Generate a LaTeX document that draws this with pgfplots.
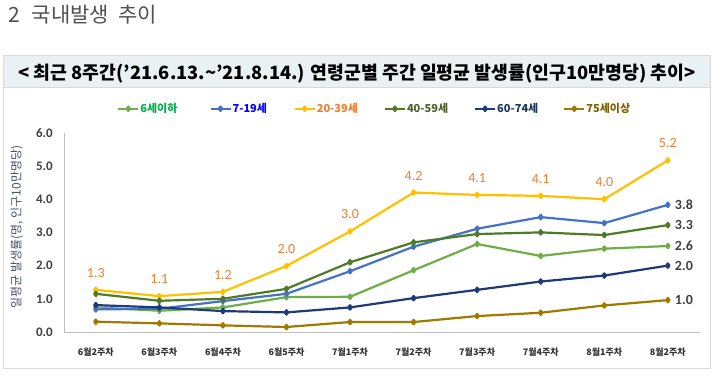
\documentclass[border=0pt]{standalone}
\usepackage{pgfplots}
\pgfplotsset{compat=1.18}
\usepackage{fontspec}
\usepackage{graphicx}
\setmainfont{Noto Sans CJK KR}
\newfontfamily\calfont{Carlito}

\definecolor{cA}{HTML}{70AD47}
\definecolor{cB}{HTML}{4472C4}
\definecolor{cC}{HTML}{FFC000}
\definecolor{cD}{HTML}{4F7A28}
\definecolor{cE}{HTML}{1F3A78}
\definecolor{cF}{HTML}{9E7B00}
\definecolor{tA}{HTML}{00B050}
\definecolor{tB}{HTML}{0000FF}
\definecolor{tC}{HTML}{ED7D31}
\definecolor{tD}{HTML}{4F6228}
\definecolor{tE}{HTML}{1F3864}
\definecolor{tF}{HTML}{7F6000}
\definecolor{framec}{HTML}{D9D9D9}
\definecolor{subbg}{HTML}{EAF1F5}
\definecolor{titlec}{HTML}{505050}
\definecolor{axc}{HTML}{BFBFBF}
\definecolor{ticktext}{HTML}{404040}
\definecolor{ylabc}{HTML}{44546A}

\begin{document}
\begin{tikzpicture}
\path[use as bounding box, fill=white] (0pt,0pt) rectangle (712pt,379pt);
\fill[subbg] (3pt,292pt) rectangle (710pt,324pt);
\draw[framec, line width=0.8pt] (3pt,11pt) rectangle (710pt,324pt);
\draw[framec, line width=0.8pt] (3pt,292pt) -- (710pt,292pt);
\node[anchor=base west, inner sep=0pt, text=titlec, font=\fontsize{21}{24}\selectfont] at (8pt,356pt) {2\hspace{12pt}국내발생\hspace{9pt}추이};
\node[anchor=base, inner sep=0pt, font=\bfseries\fontsize{18.3}{21}\selectfont] at (357pt,299pt) {< 최근 8주간(’21.6.13.\textasciitilde’21.8.14.) 연령군별 주간 일평균 발생률(인구10만명당) 추이>};

\begin{axis}[
  at={(64pt,47pt)}, anchor=south west,
  scale only axis, width=635.6pt, height=199.2pt,
  xmin=-0.5, xmax=9.5, ymin=0, ymax=6,
  clip=false,
  axis x line*=bottom, axis y line*=left,
  axis line style={draw=axc, line width=0.9pt, -},
  major tick length=0pt,
  xtick={0,1,2,3,4,5,6,7,8,9},
  xticklabels={6월2주차,6월3주차,6월4주차,6월5주차,7월1주차,7월2주차,7월3주차,7월4주차,8월1주차,8월2주차},
  ytick={0,1,2,3,4,5,6},
  yticklabels={0.0,1.0,2.0,3.0,4.0,5.0,6.0},
  yticklabel style={font=\calfont\bfseries\fontsize{13}{13}\selectfont, text=ticktext, inner sep=0pt, anchor=east, xshift=-11pt},
  xticklabel style={font=\bfseries\fontsize{9}{10}\selectfont, text=ticktext!80!black, anchor=center, yshift=-20pt},
  ylabel={일평균 발생률(명, 인구10만명당)},
  every axis y label/.style={at={(axis description cs:-0.074,0.527)}, rotate=90, anchor=center, font=\fontsize{12}{14}\selectfont, text=ylabc},
  legend columns=6,
  legend cell align=left,
  legend style={at={(0.0834,1.1206)}, anchor=west, draw=none, fill=none, inner sep=0pt, column sep=0pt, nodes={inner sep=0pt}, font=\bfseries\fontsize{11}{13}\selectfont},
  legend image code/.code={\draw[mark repeat=2, mark phase=2, #1] plot coordinates {(0pt,0pt) (10pt,0pt) (20pt,0pt)};},
  every axis plot/.append style={line width=2.2pt, line join=round, mark=diamond*, mark size=2.2pt, mark options={solid}},
]
\addplot[cA] coordinates {(0,0.74) (1,0.64) (2,0.74) (3,1.05) (4,1.06) (5,1.86) (6,2.65) (7,2.29) (8,2.51) (9,2.59)}
  node[pos=1, anchor=west, xshift=6pt, inner sep=0pt, font=\calfont\bfseries\fontsize{14}{14}\selectfont, text=ticktext] {2.6};
\addlegendentry{\makebox[70pt][l]{\hspace{1pt}\textcolor{tA}{6세이하}}}
\addplot[cB] coordinates {(0,0.68) (1,0.70) (2,0.93) (3,1.15) (4,1.83) (5,2.57) (6,3.11) (7,3.46) (8,3.28) (9,3.83)}
  node[pos=1, anchor=west, xshift=6pt, inner sep=0pt, font=\calfont\bfseries\fontsize{14}{14}\selectfont, text=ticktext] {3.8};
\addlegendentry{\makebox[62pt][l]{\hspace{1pt}\textcolor{tB}{7-19세}}}
\addplot[cC, nodes near coords, point meta=explicit symbolic,
  every node near coord/.append style={anchor=center, yshift=17pt, inner sep=0pt, font=\calfont\fontsize{14}{14}\selectfont, text=tC}]
  coordinates {(0,1.27) [1.3] (1,1.08) [1.1] (2,1.21) [1.2] (3,1.99) [2.0] (4,3.03) [3.0] (5,4.20) [4.2] (6,4.13) [4.1] (7,4.10) [4.1] (8,4.00) [4.0] (9,5.17) [5.2]};
\addlegendentry{\makebox[68pt][l]{\hspace{1pt}\textcolor{tC}{20-39세}}}
\addplot[cD] coordinates {(0,1.15) (1,0.94) (2,1.00) (3,1.30) (4,2.10) (5,2.70) (6,2.95) (7,3.00) (8,2.92) (9,3.22)}
  node[pos=1, anchor=west, xshift=6pt, inner sep=0pt, font=\calfont\bfseries\fontsize{14}{14}\selectfont, text=ticktext] {3.3};
\addlegendentry{\makebox[68pt][l]{\hspace{1pt}\textcolor{tD}{40-59세}}}
\addplot[cE] coordinates {(0,0.81) (1,0.74) (2,0.63) (3,0.59) (4,0.74) (5,1.02) (6,1.27) (7,1.52) (8,1.70) (9,2.00)}
  node[pos=1, anchor=west, xshift=6pt, inner sep=0pt, font=\calfont\bfseries\fontsize{14}{14}\selectfont, text=ticktext] {2.0};
\addlegendentry{\makebox[67pt][l]{\hspace{1pt}\textcolor{tE}{60-74세}}}
\addplot[cF] coordinates {(0,0.31) (1,0.26) (2,0.20) (3,0.15) (4,0.30) (5,0.30) (6,0.48) (7,0.58) (8,0.80) (9,0.96)}
  node[pos=1, anchor=west, xshift=6pt, inner sep=0pt, font=\calfont\bfseries\fontsize{14}{14}\selectfont, text=ticktext] {1.0};
\addlegendentry{\makebox[50pt][l]{\hspace{1pt}\textcolor{tF}{75세이상}}}
\end{axis}
\end{tikzpicture}
\end{document}
